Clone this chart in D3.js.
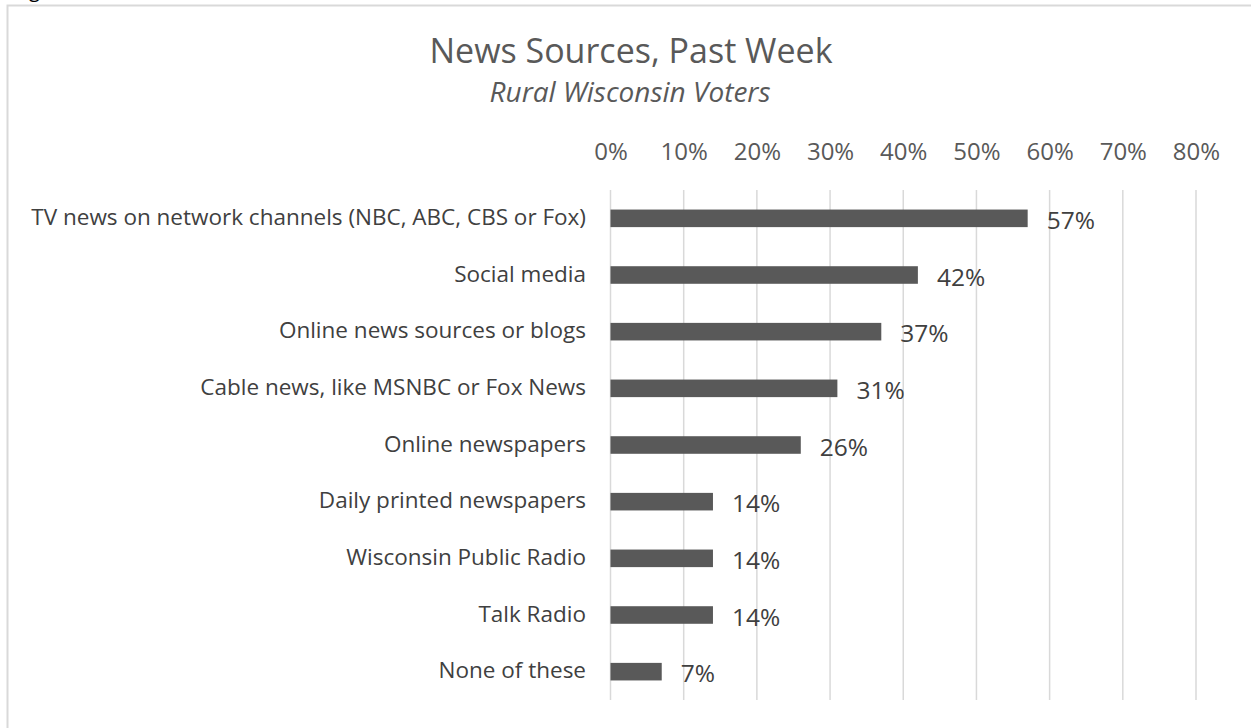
<!DOCTYPE html>
<html>
<head>
<meta charset="utf-8">
<script src="https://cdn.jsdelivr.net/npm/d3@7"></script>
<style>
  html, body { margin: 0; padding: 0; background: #fff; }
  svg { display: block; }
  text { font-family: "Open Sans", "Noto Sans", sans-serif; }
</style>
</head>
<body>
<svg id="chart" width="1251" height="728"></svg>
<script>
// Share of rural Wisconsin voters using each news source in the past week
const categories = [
  "TV news on network channels (NBC, ABC, CBS or Fox)",
  "Social media",
  "Online news sources or blogs",
  "Cable news, like MSNBC or Fox News",
  "Online newspapers",
  "Daily printed newspapers",
  "Wisconsin Public Radio",
  "Talk Radio",
  "None of these"
];
const values = [57, 42, 37, 31, 26, 14, 14, 14, 7];
const tickValues = [0, 10, 20, 30, 40, 50, 60, 70, 80];
const titleText = "News Sources, Past Week";
const subtitleText = "Rural Wisconsin Voters";

const svg = d3.select("#chart");

// chart frame (runs off the right and bottom edges)
svg.append("rect")
  .attr("x", 7.5).attr("y", 5.5)
  .attr("width", 1300).attr("height", 800)
  .attr("fill", "#fff")
  .attr("stroke", "#d9d9d9")
  .attr("stroke-width", 2);

// descender of a caption line above the frame
svg.append("text")
  .attr("x", 29).attr("y", -3)
  .attr("font-size", 20)
  .attr("fill", "#000")
  .text("g");

const plot = { left: 610.5, right: 1196, top: 190, bottom: 700 };

const x = d3.scaleLinear().domain([0, 80]).range([plot.left, plot.right]);
const y = d3.scaleBand().domain(categories).range([plot.top, plot.bottom]).paddingInner(0.69).paddingOuter(0.345);

// title
svg.append("text")
  .attr("x", 631).attr("y", 63)
  .attr("text-anchor", "middle")
  .attr("font-size", 34)
  .attr("fill", "#595959")
  .text(titleText);

svg.append("text")
  .attr("x", 630).attr("y", 102)
  .attr("text-anchor", "middle")
  .attr("font-size", 28)
  .attr("font-style", "italic")
  .attr("fill", "#595959")
  .text(subtitleText);

// vertical gridlines
svg.append("g")
  .selectAll("line")
  .data(tickValues)
  .join("line")
  .attr("x1", d => x(d)).attr("x2", d => x(d))
  .attr("y1", plot.top).attr("y2", plot.bottom)
  .attr("stroke", "#d9d9d9")
  .attr("stroke-width", 1.5);

// top axis labels
const xAxis = d3.axisTop(x)
  .tickValues(tickValues)
  .tickFormat(d => d + "%")
  .tickSize(0)
  .tickPadding(0);

const axisG = svg.append("g")
  .attr("transform", `translate(0, 160)`)
  .call(xAxis);
axisG.select(".domain").remove();
axisG.selectAll("text")
  .attr("font-family", "\"Open Sans\", sans-serif")
  .attr("font-size", 24)
  .attr("fill", "#595959")
  .attr("dy", 0);

// category axis labels
const yAxis = d3.axisLeft(y).tickSize(0).tickPadding(0);
const yG = svg.append("g")
  .attr("transform", `translate(586, 0)`)
  .call(yAxis);
yG.select(".domain").remove();
yG.selectAll("text")
  .attr("font-family", "\"Open Sans\", sans-serif")
  .attr("font-size", 22.5)
  .attr("fill", "#404040")
  .attr("dy", "0.3em");

// bars
svg.append("g")
  .selectAll("rect")
  .data(values)
  .join("rect")
  .attr("x", x(0))
  .attr("y", (d, i) => y(categories[i]))
  .attr("width", d => x(d) - x(0))
  .attr("height", y.bandwidth())
  .attr("fill", "#595959");

// value labels
svg.append("g")
  .selectAll("text")
  .data(values)
  .join("text")
  .attr("x", d => x(d) + 19)
  .attr("y", (d, i) => y(categories[i]) + y.bandwidth() / 2)
  .attr("dy", "0.43em")
  .attr("font-size", 24.5)
  .attr("fill", "#404040")
  .text(d => d + "%");
</script>
</body>
</html>
